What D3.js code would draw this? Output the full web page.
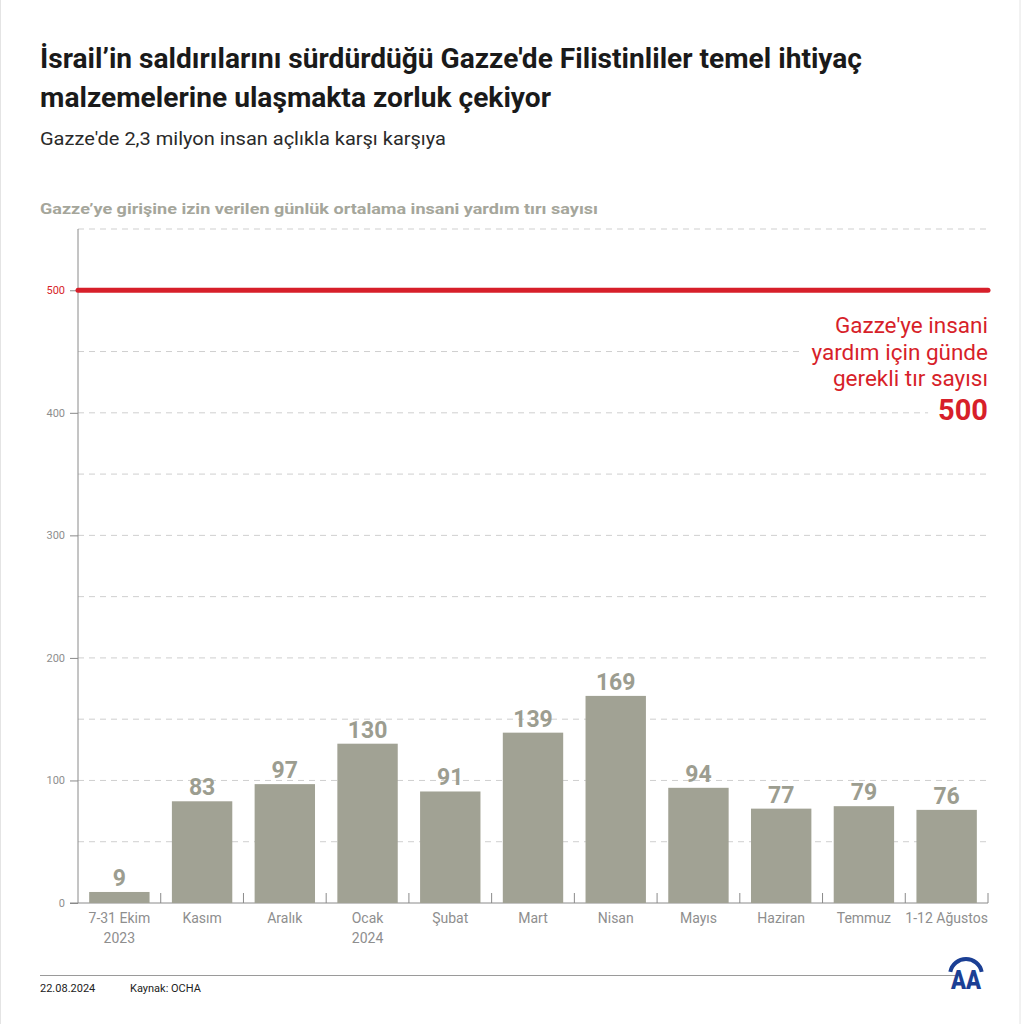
<!DOCTYPE html>
<html><head><meta charset="utf-8">
<script src="https://cdn.jsdelivr.net/npm/d3@7"></script>
<style>body{margin:0;background:#fff}svg{display:block}</style>
</head><body>
<svg id="c" width="1024" height="1024"></svg>
<script>
const categories = ["7-31 Ekim\n2023","Kasım","Aralık","Ocak\n2024","Şubat","Mart","Nisan","Mayıs","Haziran","Temmuz","1-12 Ağustos"];
const values = [9,83,97,130,91,139,169,94,77,79,76];
const yTicks = [0,100,200,300,400,500];
const gridTicks = [50,100,150,200,250,300,350,400,450,500,550];
const target = 500;

const svg = d3.select("#c");
const W=1024,H=1024;
const m={left:78,right:36,top:229,bottom:121};
const x = d3.scaleBand().domain(categories).range([m.left, W-m.right]).paddingInner(0.27).paddingOuter(0.135);
const y = d3.scaleLinear().domain([0,550]).range([H-m.bottom, m.top]);
const font="Roboto, 'Noto Sans', sans-serif";
const barColor="#a1a294", red="#d71f2a";

svg.append("rect").attr("x",0.5).attr("y",-1).attr("width",1019.5).attr("height",1026).attr("fill","none").attr("stroke","#e4e4e4");

// titles
svg.append("text").attr("x",40).attr("y",68).attr("font-family",font).attr("font-weight",700).attr("font-size",27).attr("fill","#1a1a1a")
 .attr("textLength",822).attr("lengthAdjust","spacingAndGlyphs").text("İsrail’in saldırılarını sürdürdüğü Gazze'de Filistinliler temel ihtiyaç");
svg.append("text").attr("x",40).attr("y",107).attr("font-family",font).attr("font-weight",700).attr("font-size",27).attr("fill","#1a1a1a")
 .attr("textLength",511).attr("lengthAdjust","spacingAndGlyphs").text("malzemelerine ulaşmakta zorluk çekiyor");
svg.append("text").attr("x",40).attr("y",145).attr("font-family",font).attr("font-size",17.5).attr("fill","#2a2a2a")
 .attr("textLength",406).attr("lengthAdjust","spacingAndGlyphs").text("Gazze'de 2,3 milyon insan açlıkla karşı karşıya");
svg.append("text").attr("x",40).attr("y",214).attr("font-family",font).attr("font-weight",700).attr("font-size",15.5).attr("fill","#a5a69b")
 .attr("textLength",558).attr("lengthAdjust","spacingAndGlyphs").text("Gazze’ye girişine izin verilen günlük ortalama insani yardım tırı sayısı");

// grid
svg.append("g").selectAll("line").data(gridTicks).join("line")
 .attr("x1",m.left).attr("x2",W-m.right).attr("y1",d=>y(d)).attr("y2",d=>y(d))
 .attr("stroke","#cfcfcf").attr("stroke-width",1).attr("stroke-dasharray","6,5");

// y axis
const ya=svg.append("g").attr("transform",`translate(${m.left},0)`)
 .call(d3.axisLeft(y).tickValues(yTicks).tickSize(8).tickPadding(5));
ya.select(".domain").attr("d",`M0,${y(0)}V${y(550)}`).attr("stroke","#8a8a8a");
ya.selectAll(".tick line").attr("stroke","#8a8a8a");
ya.selectAll(".tick text").attr("font-family",font).attr("font-size",11).attr("fill",d=>d===500?red:"#8e8e8e");

// x axis
const xa=svg.append("g").attr("transform",`translate(0,${y(0)})`);
xa.append("line").attr("x1",m.left-8).attr("x2",W-m.right).attr("stroke","#8a8a8a");
const step=x.step();
const bounds=categories.map((c,i)=>x(c)-x.paddingInner()*step/2+step);
xa.selectAll("line.tk").data(bounds).join("line").attr("class","tk")
 .attr("x1",d=>d).attr("x2",d=>d).attr("y1",0).attr("y2",-10).attr("stroke","#8a8a8a");

// bars
svg.append("g").selectAll("rect").data(values).join("rect")
 .attr("x",(d,i)=>x(categories[i])).attr("width",x.bandwidth())
 .attr("y",d=>y(d)).attr("height",d=>y(0)-y(d)).attr("fill",barColor);
svg.append("g").selectAll("text").data(values).join("text")
 .attr("x",(d,i)=>x(categories[i])+x.bandwidth()/2).attr("y",d=>y(d)-6)
 .attr("text-anchor","middle").attr("font-family",font).attr("font-weight",700).attr("font-size",23).attr("fill","#9c9d90")
 .text(d=>d);

// category labels
const cl=svg.append("g").selectAll("text").data(categories).join("text")
 .attr("x",d=>x(d)+x.bandwidth()/2).attr("y",y(0)+20)
 .attr("text-anchor","middle").attr("font-family",font).attr("font-size",14).attr("fill","#8e8e8e");
cl.each(function(d){const parts=d.split("\n");const s=d3.select(this);
 parts.forEach((p,i)=>s.append("tspan").attr("x",s.attr("x")).attr("dy",i?20:0).text(p));});

// target line
svg.append("line").attr("x1",m.left).attr("x2",W-m.right).attr("y1",y(target)).attr("y2",y(target))
 .attr("stroke",red).attr("stroke-width",5).attr("stroke-linecap","round");

// annotation (with per-line white backgrounds)
const annG=svg.append("g");
const ann=["Gazze'ye insani","yardım için günde","gerekli tır sayısı"];
const lines=ann.map((t,i)=>({t,y:333+i*26.5,size:22.5,w:400})).concat([{t:String(target),y:420,size:29,w:700}]);
lines.forEach(l=>{
  const bg=annG.append("rect").attr("fill","#fff");
  const tx=annG.append("text").attr("x",W-m.right).attr("y",l.y).attr("text-anchor","end")
   .attr("font-family",font).attr("font-weight",l.w).attr("font-size",l.size).attr("fill",red).text(l.t);
  const b=tx.node().getBBox();
  bg.attr("x",b.x-10).attr("y",b.y).attr("width",b.width+20).attr("height",b.height);
});

// footer
svg.append("line").attr("x1",40).attr("x2",958).attr("y1",975.5).attr("y2",975.5).attr("stroke","#9a9a9a");
svg.append("text").attr("x",40).attr("y",992).attr("font-family",font).attr("font-size",11).attr("fill","#222").text("22.08.2024");
svg.append("text").attr("x",130).attr("y",992).attr("font-family",font).attr("font-size",11).attr("fill","#222").text("Kaynak: OCHA");

// logo
const lg=svg.append("g").attr("transform","translate(966,975)");
const blue="#1b3f94";
lg.append("path").attr("d",d3.arc()({innerRadius:14,outerRadius:18,startAngle:-Math.PI/2+0.2,endAngle:Math.PI/2-0.2})).attr("fill",blue);
lg.append("text").attr("x",0).attr("y",14).attr("text-anchor","middle").attr("font-family",font).attr("font-weight",900).attr("font-size",26)
 .attr("fill",blue).attr("textLength",30).attr("lengthAdjust","spacingAndGlyphs").text("AA");
</script>
</body></html>
